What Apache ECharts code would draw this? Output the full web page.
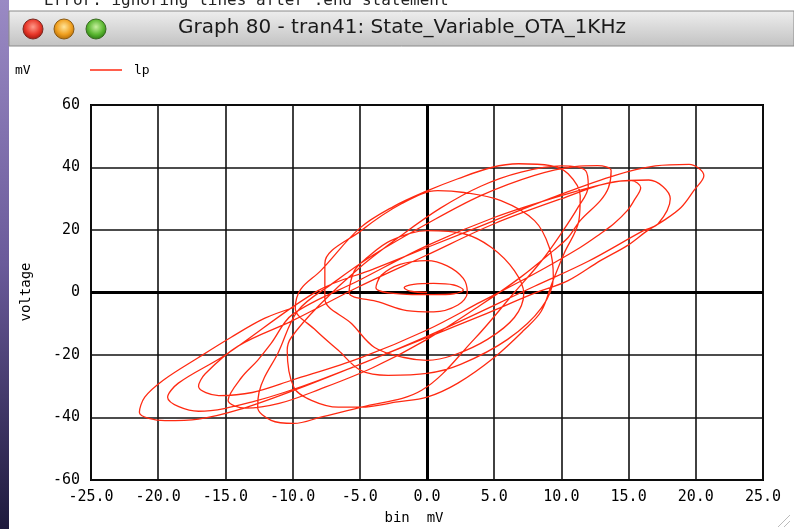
<!DOCTYPE html>
<html><head><meta charset="utf-8">
<script src="https://cdn.jsdelivr.net/npm/echarts/dist/echarts.min.js"></script>
<style>html,body{margin:0;padding:0;background:#fff;overflow:hidden}#c{width:794px;height:529px}</style>
</head><body><div id="c"></div>
<script>
// Axis ranges / ticks
const xTicks = [-25, -20, -15, -10, -5, 0, 5, 10, 15, 20, 25];
const yTicks = [-60, -40, -20, 0, 20, 40, 60];
const seriesName = 'lp';
const windowTitle = 'Graph 80 - tran41: State_Variable_OTA_1KHz';
const behindText = 'Error: ignoring lines after .end statement';
const xAxisName = 'bin  mV';
const yAxisName = 'voltage';
const unitLabel = 'mV';

// lp (mV) vs bin (mV) trajectory
const loop1 = [[0,0],[-1.2,0.4],[-1.7,1.5],[-1,2.6],[0.5,2.9],[2,2.4],[2.7,0.8],[2,-0.4],[0.5,-0.7],[-1.5,-0.6]];
const loop2 = [[-3.8,1.5],[-3.4,5.5],[-2,9],[0,10.2],[1.5,8.5],[2.7,4.5],[3,0],[2.3,-4],[0.5,-6.2],[-1.5,-5.8],[-3.6,-3]];
const loop3 = [[-5.8,0],[-5.4,7],[-4.5,11],[-2.7,16.6],[0,19.8],[2.75,18.8],[4.8,14.4],[6.5,7],[7.2,-0.3],[6.5,-8],[4.5,-15],[2,-20],[0,-21.7],[-1.7,-20.8],[-3.9,-17.6],[-5.6,-10]];
const loop4 = [[-7.6,-2],[-7.6,9.3],[-4.9,19.8],[-1.9,28.4],[0.8,32.6],[2.75,32],[5.5,29.4],[8,23],[9.1,14.4],[9.4,5],[8.5,-5],[6,-15],[2.5,-23],[0,-25.9],[-2.9,-26.5],[-4.9,-25],[-6.6,-18.5],[-8.3,-12]];
const loop5 = [[-9.8,-5],[-9.4,1],[-7.9,7],[-5,20.6],[-2.5,27.5],[0,32.5],[2.3,36.4],[4.8,40],[6.8,41.2],[9.2,40.6],[10.5,38],[11.4,31],[11.3,23],[10.2,12.5],[9.3,3],[8.5,-6],[7.2,-12.1],[5,-20.8],[2.3,-29],[0,-33.5],[-2.2,-35],[-4.9,-36.7],[-6.6,-36.7],[-8.6,-34.5],[-9.9,-30.4],[-10.4,-18.5]];
const loop6 = [[-10.1,-14.4],[-8,-4],[-5,8],[-2,18],[1,27],[4,34],[7,38.5],[10,40.5],[11.8,39],[12,34],[11.2,27],[10,19],[8.5,10],[6.5,0],[3.5,-15],[-0.4,-31.3],[-4.9,-36.7],[-7.9,-39.9],[-9.9,-41.9],[-11.6,-40.9],[-12.6,-36.7],[-12.5,-32],[-12.1,-27.2],[-11.1,-19.5]];
const loop7 = [[-9.6,-5.8],[-7,3],[-4,12],[0,22],[4,31],[8,37.5],[11,40.3],[12.7,40.6],[13.7,39],[13.5,33.5],[12.9,29.4],[11.4,23],[10.5,17.6],[9.4,13.4],[7,5],[4,-4],[0,-15],[-4,-24],[-8,-31],[-11,-35.5],[-13.5,-37],[-14.8,-34.5],[-13.8,-27.2],[-12.6,-21.7],[-11.6,-16.3]];
const loop8 = [[-10,-7],[-5,4],[0,15],[5,24],[10,31],[13.5,35],[15.2,35.8],[15.9,33.5],[15.4,29.4],[14.9,26.2],[13.9,22],[12.9,18.8],[11.4,14.4],[8,6],[4,-3],[0,-12],[-5,-21],[-10,-28],[-13,-32],[-15.5,-33],[-17,-30],[-16.5,-26],[-14,-17]];
const loop9 = [[-10,-9],[-5,2],[0,12],[5,22],[10,30],[14,35.5],[16.5,36],[18.1,30],[17.2,22],[16.1,19.8],[12,10],[8,2],[0,-14],[-8,-28],[-13,-35],[-17,-38],[-19.3,-33.5],[-18.5,-29],[-15,-20]];
const loop10 = [[-8.1,0.6],[-4,7.5],[0,14.4],[5,23],[9.9,31.3],[14,37.5],[17,40.5],[19.5,41],[20.6,37.4],[19.85,32.6],[18.9,27.2],[17.6,23],[16.4,19.8],[14.9,15],[12.9,10.2],[10.5,3.8],[7.96,-0.3],[4,-7.5],[0,-14.4],[-5,-23],[-9.9,-31.3],[-14,-37.5],[-17,-40.5],[-19.5,-41],[-21.4,-38.3],[-21,-33.5],[-19.6,-28],[-17,-20.8],[-14.6,-14.4],[-12.1,-8.3],[-9.9,-4.8]];

const lpData = [].concat(loop1, loop2, loop3, loop4, loop5, loop6, loop7, loop8, loop9, loop10);

const MONO = '"DejaVu Sans Mono", monospace';
const chart = echarts.init(document.getElementById('c'), null, {renderer: 'canvas'});

const grid = {left: 91, top: 105, width: 672, height: 375};

chart.setOption({
  animation: false,
  backgroundColor: '#ffffff',
  grid: Object.assign({show: true, borderColor: '#000', borderWidth: 2, backgroundColor: '#fff'}, grid),
  xAxis: {
    type: 'value', min: xTicks[0], max: xTicks[xTicks.length - 1], interval: 5,
    axisLine: {show: false}, axisTick: {show: false},
    splitLine: {show: true, lineStyle: {color: '#111', width: 1.6}},
    axisLabel: {color: '#000', fontFamily: MONO, fontSize: 15, margin: 10,
      formatter: v => v.toFixed(1)}
  },
  yAxis: {
    type: 'value', min: yTicks[0], max: yTicks[yTicks.length - 1], interval: 20,
    axisLine: {show: false}, axisTick: {show: false},
    splitLine: {show: true, lineStyle: {color: '#111', width: 1.6}},
    axisLabel: {color: '#000', fontFamily: MONO, fontSize: 15, margin: 11}
  },
  series: [{
    name: seriesName, type: 'line', data: lpData, showSymbol: false, smooth: 0.35,
    lineStyle: {color: '#ff2a12', width: 1.3}, z: 5,
    markLine: {
      silent: true, symbol: 'none', label: {show: false},
      lineStyle: {color: '#000', width: 3, type: 'solid'},
      data: [{xAxis: 0}, {yAxis: 0}], z: 3
    }
  }],
  graphic: [
    // desktop strip on the left
    {type: 'rect', shape: {x: 0, y: 0, width: 9, height: 529}, z: 100,
      style: {fill: new echarts.graphic.LinearGradient(0, 0, 0, 1, [{offset: 0, color: '#9a8ac4'}, {offset: 0.5, color: '#6a5a9a'}, {offset: 1, color: '#1e1a3c'}])}},
    // clipped text of the window behind
    {type: 'text', x: 44, y: 1, z: 100, style: {text: behindText, font: '16px ' + MONO, fill: '#222', textVerticalAlign: 'middle'}},
    // title bar
    {type: 'rect', shape: {x: 9, y: 11, width: 785, height: 35}, z: 101,
      style: {fill: new echarts.graphic.LinearGradient(0, 0, 0, 1, [{offset: 0, color: '#eeeeee'}, {offset: 1, color: '#c2c2c2'}]), stroke: '#8a8a8a', lineWidth: 1}},
    {type: 'circle', shape: {cx: 33, cy: 29, r: 10}, z: 102,
      style: {fill: new echarts.graphic.RadialGradient(0.5, 0.4, 0.6, [{offset: 0, color: '#ff9a8a'}, {offset: 0.6, color: '#e8382a'}, {offset: 1, color: '#a0150c'}]), stroke: '#7a2a22', lineWidth: 1}},
    {type: 'circle', shape: {cx: 64, cy: 29, r: 10}, z: 102,
      style: {fill: new echarts.graphic.RadialGradient(0.5, 0.4, 0.6, [{offset: 0, color: '#ffe59a'}, {offset: 0.6, color: '#f0a020'}, {offset: 1, color: '#b06a08'}]), stroke: '#8a5a14', lineWidth: 1}},
    {type: 'circle', shape: {cx: 96, cy: 29, r: 10}, z: 102,
      style: {fill: new echarts.graphic.RadialGradient(0.5, 0.4, 0.6, [{offset: 0, color: '#c8f0a0'}, {offset: 0.6, color: '#5cb832'}, {offset: 1, color: '#2a7a12'}]), stroke: '#3a6a22', lineWidth: 1}},
    {type: 'text', x: 402, y: 28, z: 102, style: {text: windowTitle, font: '20px "DejaVu Sans", sans-serif', fill: '#1a1a1a', textAlign: 'center', textVerticalAlign: 'middle'}},
    // legend
    {type: 'text', x: 15, y: 71, z: 50, style: {text: unitLabel, font: '13px ' + MONO, fill: '#000', textVerticalAlign: 'middle'}},
    {type: 'line', shape: {x1: 90, y1: 70, x2: 122, y2: 70}, z: 50, style: {stroke: '#ff2a12', lineWidth: 1.5}},
    {type: 'text', x: 134, y: 71, z: 50, style: {text: seriesName, font: '13px ' + MONO, fill: '#000', textVerticalAlign: 'middle'}},
    // axis names
    {type: 'text', x: 26, y: 292, rotation: Math.PI / 2, z: 50, style: {text: yAxisName, font: '14px ' + MONO, fill: '#000', textAlign: 'center', textVerticalAlign: 'middle'}},
    {type: 'text', x: 414, y: 518, z: 50, style: {text: xAxisName, font: '14px ' + MONO, fill: '#000', textAlign: 'center', textVerticalAlign: 'middle'}},
    // resize grip
    {type: 'polyline', shape: {points: [[778, 527], [790, 515]]}, z: 50, style: {stroke: '#bbb', lineWidth: 1}},
    {type: 'polyline', shape: {points: [[784, 527], [790, 521]]}, z: 50, style: {stroke: '#bbb', lineWidth: 1}}
  ]
});
</script>
</body></html>
